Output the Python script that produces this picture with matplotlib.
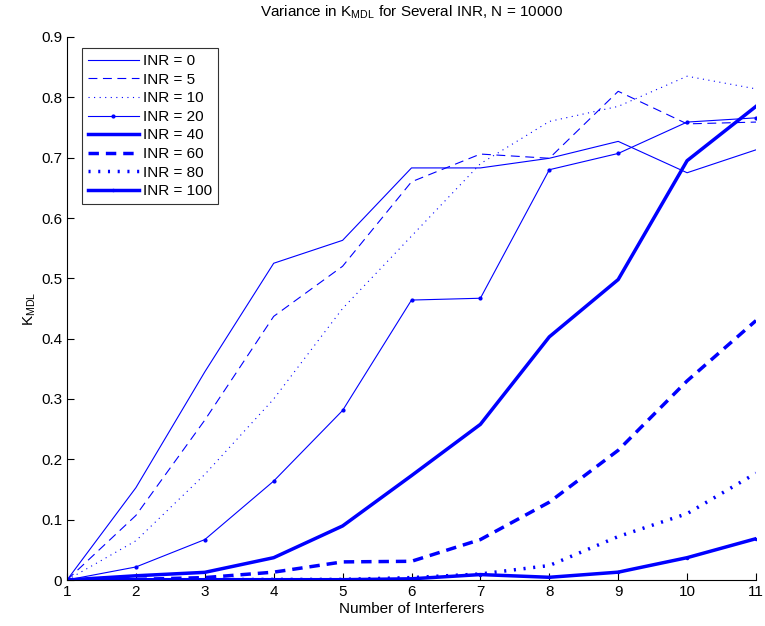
import matplotlib
matplotlib.use("Agg")
import matplotlib.pyplot as plt

plt.rcParams['font.family'] = ['Liberation Sans', 'DejaVu Sans']

x = [1, 2, 3, 4, 5, 6, 7, 8, 9, 10, 11]
inr_labels = ['INR = 0', 'INR = 5', 'INR = 10', 'INR = 20', 'INR = 40', 'INR = 60', 'INR = 80', 'INR = 100']
inr0 = [0, 0.153, 0.345, 0.525, 0.563, 0.683, 0.683, 0.699, 0.727, 0.675, 0.713]
inr5 = [0, 0.107, 0.265, 0.437, 0.520, 0.660, 0.706, 0.699, 0.810, 0.756, 0.759]
inr10 = [0, 0.065, 0.175, 0.300, 0.450, 0.570, 0.690, 0.760, 0.785, 0.835, 0.814]
inr20 = [0, 0.0216, 0.067, 0.164, 0.281, 0.464, 0.467, 0.680, 0.707, 0.759, 0.766]
inr40 = [0, 0.007, 0.0127, 0.037, 0.0896, 0.173, 0.258, 0.403, 0.498, 0.695, 0.785]
inr60 = [0, 0.001, 0.004, 0.013, 0.030, 0.031, 0.067, 0.129, 0.215, 0.330, 0.430]
inr80 = [0, 0.0, 0.0005, 0.001, 0.001, 0.004, 0.010, 0.024, 0.072, 0.110, 0.177]
inr100 = [0, 0.0005, 0.0005, 0.0005, 0.0005, 0.002, 0.009, 0.0045, 0.013, 0.037, 0.0685]

series = [inr0, inr5, inr10, inr20, inr40, inr60, inr80, inr100]
styles = [
    dict(ls='-', lw=0.8, marker=None),
    dict(ls=(0, (8, 5)), lw=0.8, marker=None),
    dict(ls=(0, (1, 4)), lw=0.8, marker=None),
    dict(ls='-', lw=0.8, marker='.', ms=4),
    dict(ls='-', lw=2.5, marker=None),
    dict(ls=(0, (3, 2)), lw=2.5, marker=None),
    dict(ls=(0, (0.6, 2.2)), lw=2.5, marker=None),
    dict(ls='-', lw=2.5, marker='.', ms=3),
]

fig = plt.figure(figsize=(7.65, 6.26), dpi=100)
ax = fig.add_axes([67/765, 1-580/626, (756-67)/765, (580-37)/626])

for ys, lab, st in zip(series, inr_labels, styles):
    ax.plot(x, ys, color='#0000ff', label=lab, linestyle=st['ls'], linewidth=st['lw'],
            marker=st['marker'], markersize=st.get('ms', 0))

ax.set_xlim(1, 11)
ax.set_ylim(0, 0.9)
ax.set_xticks(range(1, 12))
ax.set_yticks([0, 0.1, 0.2, 0.3, 0.4, 0.5, 0.6, 0.7, 0.8, 0.9])
ax.set_yticklabels(['0', '0.1', '0.2', '0.3', '0.4', '0.5', '0.6', '0.7', '0.8', '0.9'])
ax.tick_params(direction='in', length=5, labelsize=11, width=0.8)
ax.spines['top'].set_visible(False)
ax.spines['right'].set_visible(False)

ax.set_title('Variance in K$_{\\mathregular{MDL}}$ for Several INR, N = 10000', fontsize=11, pad=15)
ax.set_xlabel('Number of Interferers', fontsize=11, labelpad=2)
ax.set_ylabel('K$_{\\mathregular{MDL}}$', fontsize=11, labelpad=2)

leg = ax.legend(loc='upper left', bbox_to_anchor=(15/689, 1-11/543), fontsize=11,
                frameon=True, fancybox=False, edgecolor='black', handlelength=3.3,
                labelspacing=0.3, borderpad=0.4, handletextpad=0.3, borderaxespad=0)
leg.get_frame().set_linewidth(0.8)

fig.savefig('out.png', dpi=100)
